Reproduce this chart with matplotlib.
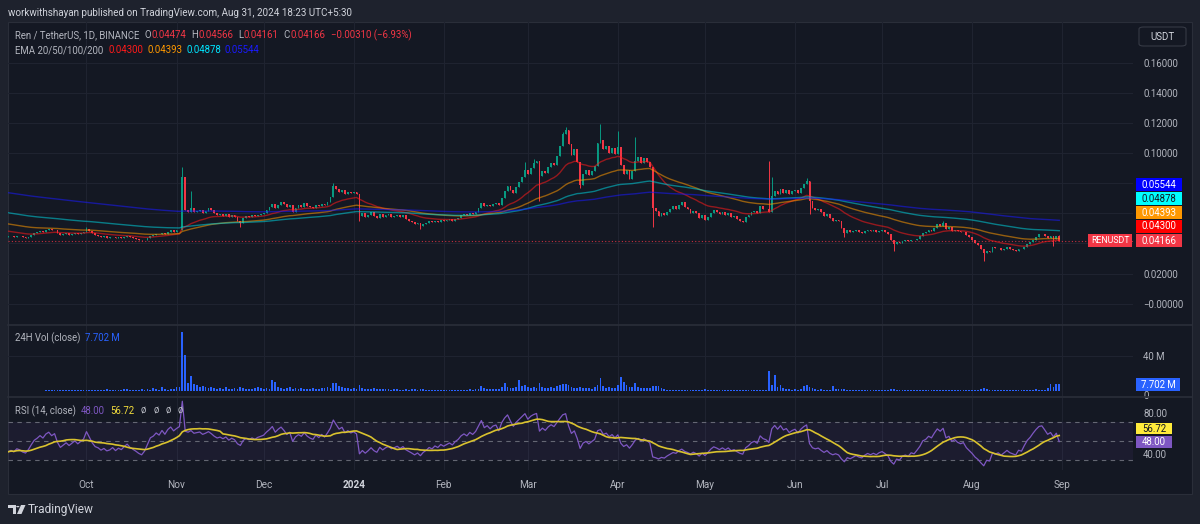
import numpy as np
import pandas as pd
import matplotlib
matplotlib.use("Agg")
import matplotlib.pyplot as plt
import matplotlib.dates as mdates
from matplotlib.patches import Rectangle, FancyBboxPatch, Circle, Polygon
from matplotlib.lines import Line2D

plt.rcParams["font.family"] = ["Roboto", "DejaVu Sans"]

W, H = 1200, 524
nan = float("nan")

# ---------------- data (prices in thousandths of USDT, volume in millions) ----------------
FIRST_DAY = "2023-09-04"
FIRST_OPEN = 44.2

close_sep = [44.6, 45.0, 44.4, 45.2, 44.8, 44.0, 43.6, 44.4, 45.6, 46.8,
             47.4, 48.2, 47.6, 48.8, 49.4, 48.6, 49.2, 47.0, 45.4, 46.0,
             46.6, 45.8, 46.4, 47.0, 46.2, 46.8, 47.4]
close_oct = [49.6, 48.2, 46.6, 45.4, 45.0, 44.2, 44.6, 43.8, 44.0, 44.5,
             43.6, 44.1, 43.7, 44.3, 44.8, 44.0, 43.5, 43.0, 42.4, 42.0,
             42.6, 43.8, 45.2, 45.6, 46.4, 46.0, 47.2, 46.5, 47.8, 48.6, 47.9]
close_nov = [48.6, 49.2, 84.0, 62.0, 61.0, 63.5, 60.8, 61.6, 62.5, 60.4,
             61.8, 63.6, 62.0, 60.0, 58.6, 59.4, 58.2, 59.6, 57.4, 58.8,
             57.8, 55.0, 53.8, 57.2, 58.4, 57.6, 58.8, 58.0, 59.2, 59.8]
close_dec = [60.5, 62.4, 64.0, 66.2, 63.8, 65.8, 67.4, 66.0, 64.2, 65.6,
             61.0, 63.8, 65.2, 64.4, 66.6, 65.0, 64.0, 63.4, 65.8, 64.6,
             66.4, 65.2, 67.6, 70.8, 78.4, 76.2, 74.0, 75.6, 72.8, 74.4, 73.2]
close_jan = [74.0, 73.0, 58.0, 60.2, 57.4, 59.0, 61.0, 58.2, 56.6, 59.8,
             57.4, 58.8, 59.6, 57.8, 58.4, 59.2, 57.6, 58.6, 56.4, 55.2,
             54.0, 52.6, 53.4, 51.4, 52.8, 53.6, 54.8, 54.0, 55.2, 54.4, 55.6]
close_feb = [54.8, 55.4, 56.0, 55.2, 56.4, 57.2, 58.6, 59.4, 58.8, 60.2,
             59.6, 60.8, 63.4, 66.8, 64.6, 65.8, 64.8, 66.4, 67.0, 65.2,
             70.4, 74.6, 78.2, 75.8, 73.6, 77.4, 80.6, 84.4, 88.6]
close_mar = [86.0, 90.4, 93.2, 95.0, 84.6, 88.2, 86.6, 90.8, 93.6, 92.4,
             98.0, 104.6, 112.4, 115.2, 106.0, 98.6, 102.4, 94.0, 79.0, 86.4,
             89.0, 85.2, 88.4, 91.6, 106.4, 108.8, 102.4, 104.8, 100.2, 103.6, 99.4]
close_apr = [104.2, 92.0, 86.4, 88.8, 83.0, 88.0, 94.6, 97.2, 93.6, 96.8,
             94.2, 91.0, 63.8, 61.6, 58.4, 60.2, 58.6, 61.0, 62.8, 64.6,
             63.2, 65.8, 67.4, 64.2, 62.6, 60.4, 61.8, 60.0, 56.6, 58.8]
close_may = [55.6, 57.8, 60.4, 62.2, 61.0, 59.4, 60.6, 58.8, 60.0, 57.6,
             58.2, 56.4, 55.0, 54.2, 57.6, 58.8, 60.6, 61.4, 60.2, 64.8,
             63.2, 62.6, 61.0, 71.2, 74.8, 72.6, 76.4, 73.8, 75.2, 72.8, 74.6]
close_jun = [75.8, 73.6, 77.0, 79.6, 81.4, 68.0, 63.6, 62.4, 63.0, 60.6,
             58.4, 59.6, 56.8, 55.2, 55.8, 54.6, 50.2, 46.6, 48.8, 47.6,
             48.4, 49.2, 47.8, 47.0, 48.2, 49.0, 48.0, 48.6, 47.6, 48.4]
close_jul = [48.8, 47.6, 46.2, 42.0, 39.4, 41.2, 40.4, 41.8, 42.2, 41.4,
             42.6, 42.0, 43.2, 44.6, 46.8, 47.4, 48.8, 48.2, 50.4, 52.6,
             51.8, 53.4, 49.8, 50.6, 48.4, 49.2, 48.0, 47.4, 47.8, 45.6, 44.2]
close_aug = [42.6, 40.4, 38.8, 36.2, 33.4, 35.2, 34.6, 37.4, 36.8, 37.2,
             35.8, 36.6, 37.4, 36.2, 35.6, 35.0, 36.4, 36.0, 37.8, 39.6,
             40.8, 42.6, 44.4, 46.0, 46.4, 45.2, 43.8, 44.6, 43.2, 44.74, 41.66]

HIGH_WICKS = {
    "2023-10-01": 50.6, "2023-11-03": 90.7, "2023-11-06": 75.0,
    "2023-12-25": 80.4, "2024-02-29": 94.0, "2024-03-03": 96.0,
    "2024-03-13": 114.0, "2024-03-14": 117.5, "2024-03-26": 119.5,
    "2024-04-01": 115.0, "2024-04-07": 111.0, "2024-05-23": 94.5,
    "2024-05-24": 84.0, "2024-06-05": 83.5, "2024-07-22": 54.6,
    "2024-08-31": 45.66,
}
LOW_WICKS = {
    "2023-10-20": 41.4, "2023-11-23": 50.8, "2024-01-03": 55.0,
    "2024-01-24": 49.6, "2024-03-05": 68.0, "2024-03-19": 77.0,
    "2024-04-13": 50.7, "2024-06-06": 59.7, "2024-06-18": 44.0,
    "2024-07-05": 35.0, "2024-08-05": 28.5, "2024-08-29": 38.2,
    "2024-08-31": 41.61,
}

vol_sep = [nan] * 13 + [1.2, 1.4, 1.0, 0.9, 1.3, 1.1, 0.8, 1.0, 1.2, 0.9, 1.1, 1.0, 1.3, 1.2]
vol_oct = [1.0, 1.1, 1.4, 1.2, 0.9, 1.0, 1.3, 2.4, 1.1, 1.0,
           1.2, 0.9, 1.5, 2.6, 1.8, 1.2, 1.0, 1.4, 1.6, 2.0,
           1.5, 1.8, 1.3, 3.8, 2.6, 1.6, 4.8, 2.2, 1.5, 1.9, 2.4]
vol_nov = [4.6, 5.0, 66.5, 41.0, 8.8, 17.5, 8.2, 6.5, 4.8, 5.2,
           4.0, 3.6, 4.2, 3.4, 2.8, 3.2, 2.6, 4.4, 2.8, 2.4,
           3.0, 2.6, 4.6, 3.2, 2.4, 2.8, 2.2, 3.0, 4.2, 3.4]
vol_dec = [2.8, 3.2, 2.4, 12.2, 10.4, 4.2, 3.0, 2.6, 3.4, 4.8,
           2.6, 3.6, 2.4, 3.0, 2.8, 2.2, 2.6, 3.2, 2.4, 2.8,
           3.0, 3.6, 4.2, 3.4, 9.6, 9.2, 5.2, 4.4, 3.6, 3.0, 2.6]
vol_jan = [3.2, 2.8, 6.6, 3.4, 2.4, 2.2, 2.6, 3.0, 2.0, 2.4,
           2.2, 2.0, 1.8, 1.6, 2.0, 1.8, 1.6, 1.4, 1.8, 1.6,
           2.0, 2.2, 1.6, 2.4, 1.8, 1.4, 1.2, 1.6, 1.4, 1.2, 1.4]
vol_feb = [1.2, 1.0, 1.1, 1.3, 1.0, 1.2, 1.6, 1.4, 1.2, 1.8,
           1.6, 2.0, 2.6, 5.8, 3.0, 2.4, 2.2, 2.6, 2.0, 2.4,
           4.2, 9.4, 5.0, 3.6, 3.0, 4.2, 12.2, 5.6, 6.4]
vol_mar = [4.6, 3.8, 4.2, 3.6, 8.6, 4.2, 3.8, 3.4, 4.0, 3.6,
           6.0, 7.2, 8.0, 8.4, 6.4, 4.6, 3.8, 3.4, 4.4, 3.8,
           3.6, 3.2, 2.8, 4.2, 6.6, 14.2, 5.4, 3.4, 4.6, 3.6, 3.2]
vol_apr = [7.2, 15.4, 10.2, 6.4, 4.2, 5.0, 9.6, 4.8, 3.6, 3.2,
           3.4, 3.0, 6.0, 5.8, 5.2, 3.0, 2.2, 1.6, 1.4, 1.2,
           1.4, 1.2, 1.6, 1.4, 1.2, 1.0, 1.3, 1.1, 1.2, 1.4]
vol_may = [2.4, 1.6, 1.4, 1.2, 1.1, 1.3, 1.2, 1.0, 1.1, 1.2,
           1.0, 0.9, 1.0, 1.2, 1.1, 1.3, 1.0, 0.9, 1.1, 1.2,
           1.4, 1.2, 22.8, 6.6, 18.4, 4.2, 7.0, 3.2, 2.2, 2.0, 1.6]
vol_jun = [1.8, 1.6, 2.2, 5.4, 6.6, 5.0, 3.2, 2.0, 1.6, 1.8,
           1.5, 1.4, 1.6, 6.2, 2.4, 1.8, 2.0, 2.6, 1.6, 1.4,
           1.3, 1.2, 1.4, 1.5, 1.2, 1.1, 1.3, 1.0, 1.2, 1.1]
vol_jul = [1.2, 1.1, 1.3, 1.8, 2.4, 1.6, 1.2, 1.3, 1.1, 1.0,
           1.2, 1.1, 1.0, 1.2, 1.4, 1.3, 1.2, 1.5, 1.4, 1.6,
           1.3, 1.4, 1.5, 1.2, 1.1, 1.0, 0.9, 1.0, 1.1, 1.2, 1.3]
vol_aug = [1.4, 1.6, 1.5, 1.8, 3.6, 2.2, 1.6, 1.4, 1.2, 1.1,
           1.0, 1.2, 1.1, 1.0, 1.3, 1.1, 1.0, 1.2, 1.3, 1.4,
           1.2, 1.6, 1.8, 1.5, 1.4, 1.3, 3.0, 8.0, 5.0, 7.6, 7.702]

EMA_LENGTHS = [20, 50, 100, 200]
EMA_SEEDS = [0.0485, 0.0533, 0.0607, 0.0740]   # values read at the left edge
EMA_COLORS = ["#ff1a1a", "#ff9800", "#00d0dc", "#1a1aff"]
EMA_LAST = ["0.04300", "0.04393", "0.04878", "0.05544"]
RSI_SEED_GAIN, RSI_SEED_LOSS = 0.5, 0.8
RSI_LAST, RSI_MA_LAST = "48.00", "56.72"
VOL_LAST = "7.702 M"
LAST_PRICE = 0.04166

MONTH_LABELS = ["Oct", "Nov", "Dec", "2024", "Feb", "Mar", "Apr",
                "May", "Jun", "Jul", "Aug", "Sep"]
PRICE_TICKS = [0.0, 0.02, 0.04, 0.06, 0.08, 0.10, 0.12, 0.14, 0.16]
HIDDEN_TICKS = [0.04, 0.06, 0.08]   # covered by the value tags

# ---------------- build series ----------------
closes_k = (close_sep + close_oct + close_nov + close_dec + close_jan + close_feb
            + close_mar + close_apr + close_may + close_jun + close_jul + close_aug)
volumes = (vol_sep + vol_oct + vol_nov + vol_dec + vol_jan + vol_feb
           + vol_mar + vol_apr + vol_may + vol_jun + vol_jul + vol_aug)
assert len(closes_k) == len(volumes) == 363

dates = pd.date_range(FIRST_DAY, periods=len(closes_k), freq="D")
xd = mdates.date2num(dates)
c = np.array(closes_k) / 1000
o = np.r_[FIRST_OPEN / 1000, c[:-1]]
hi = np.maximum(o, c)
lo = np.minimum(o, c)
for d, v in HIGH_WICKS.items():
    hi[dates.get_loc(pd.Timestamp(d))] = v / 1000
for d, v in LOW_WICKS.items():
    lo[dates.get_loc(pd.Timestamp(d))] = v / 1000


def ema(values, length, seed):
    a = 2 / (length + 1)
    out = np.empty(len(values))
    prev = seed
    for i, v in enumerate(values):
        prev = prev + a * (v - prev)
        out[i] = prev
    return out


ck = np.array(closes_k)
delta = np.r_[0, np.diff(ck)]
ag, al = RSI_SEED_GAIN, RSI_SEED_LOSS
rsi = np.empty(len(ck))
for i, d in enumerate(delta):
    ag += (max(d, 0) - ag) / 14
    al += (max(-d, 0) - al) / 14
    rsi[i] = 100 - 100 / (1 + ag / al)
rsi_ma = pd.Series(rsi).rolling(14, min_periods=1).mean().values

# ---------------- figure ----------------
BG = "#141823"
OUTER = "#1e222d"
GRID = "#1f2330"
TXT = "#b2b5be"
UP, DOWN = "#089981", "#f23645"

fig = plt.figure(figsize=(W / 100, H / 100), dpi=100, facecolor=OUTER)
renderer = fig.canvas.get_renderer()


def frac_rect(x0, y0, x1, y1):
    return [x0 / W, 1 - y1 / H, (x1 - x0) / W, (y1 - y0) / H]


def fx(x):
    return x / W


def fy(y):
    return 1 - y / H


fig.add_artist(Rectangle((fx(8), fy(494)), (1192 - 8) / W, (494 - 22) / H,
                         transform=fig.transFigure, facecolor=BG,
                         edgecolor="#2a2e39", lw=0.8, zorder=-1))

ax_p = fig.add_axes(frac_rect(8, 22, 1133, 324))
ax_v = fig.add_axes(frac_rect(8, 325, 1133, 396))
ax_r = fig.add_axes(frac_rect(8, 398, 1133, 470))

oct1 = mdates.date2num(pd.Timestamp("2023-10-01"))
month_starts = mdates.date2num(pd.date_range("2023-10-01", "2024-09-01", freq="MS"))

for ax in (ax_p, ax_v, ax_r):
    ax.set_facecolor("none")
    for s in ax.spines.values():
        s.set_visible(False)
    ax.set_xlim(oct1 - 27.03, oct1 + 360.4)
    for m in month_starts:
        ax.axvline(m, color=GRID, lw=0.8, zorder=0)
    ax.yaxis.tick_right()
    ax.tick_params(axis="y", length=0, pad=7.2, labelcolor=TXT, labelsize=6.9)
    ax.tick_params(axis="x", length=0)

ax_p.tick_params(axis="x", labelbottom=False)
ax_v.tick_params(axis="x", labelbottom=False)

# price pane
ax_p.set_ylim(-0.01353, 0.1871)
for t in PRICE_TICKS:
    ax_p.axhline(t, color=GRID, lw=0.8, zorder=0)
price_labels = []
for t in PRICE_TICKS:
    if t in HIDDEN_TICKS:
        price_labels.append("")
    elif t == 0:
        price_labels.append("\u22120.00000")
    else:
        price_labels.append(f"{t:.5f}")
ax_p.set_yticks(PRICE_TICKS, labels=price_labels)

cols = np.where(c >= o, UP, DOWN)
ax_p.vlines(xd, lo, hi, colors=cols, lw=0.7, zorder=2)
ax_p.bar(xd, np.maximum(np.abs(c - o), 0.0003), bottom=np.minimum(o, c),
         width=0.62, color=cols, linewidth=0, zorder=3)

for n, seed, col in zip(EMA_LENGTHS, EMA_SEEDS, EMA_COLORS):
    ax_p.plot(xd, ema(c, n, seed), color=col, lw=1.0, alpha=0.55, zorder=4)

ax_p.axhline(LAST_PRICE, color=DOWN, lw=0.8, ls=(0, (1, 2)), alpha=0.8, zorder=1)

# volume pane
ax_v.set_ylim(-5.7, 74.8)
ax_v.axhline(40, color=GRID, lw=0.8, zorder=0)
ax_v.set_yticks([0, 40], labels=["0", "40 M"])
ax_v.get_yticklabels()[0].set_va("top")
ax_v.bar(xd, np.nan_to_num(np.array(volumes)), width=0.62, color="#2962ff",
         linewidth=0, zorder=2)

# rsi pane
ax_r.set_ylim(19.1, 95.7)
ax_r.axhspan(30, 70, color="#7e57c2", alpha=0.08, lw=0, zorder=0)
for lvl in (30, 50, 70):
    ax_r.axhline(lvl, color="#787b86", lw=0.8, ls=(0, (4, 4)), alpha=0.8, zorder=1)
ax_r.plot(xd, rsi, color="#7e57c2", lw=0.9, zorder=3)
ax_r.plot(xd, rsi_ma, color="#d9c22e", lw=1.2, zorder=4)
ax_r.set_yticks([40, 80], labels=["40.00", "80.00"])
ax_r.get_yticklabels()[0].set_va("top")
ax_r.set_xticks(month_starts, labels=MONTH_LABELS)
ax_r.tick_params(axis="x", pad=7, labelcolor=TXT, labelsize=7.2)
ax_r.get_xticklabels()[3].set_fontweight("bold")
ax_r.get_xticklabels()[3].set_color("#d1d4dc")

# panel separators
for ysep in (324.5, 397):
    fig.add_artist(Line2D([fx(8), fx(1192)], [fy(ysep), fy(ysep)],
                          transform=fig.transFigure, color="#2a2e39", lw=1.2))


def tag(x0, y0, x1, y1, text, face, tc="white", size=6.9):
    fig.add_artist(Rectangle((fx(x0), fy(y1)), (x1 - x0) / W, (y1 - y0) / H,
                             transform=fig.transFigure, facecolor=face,
                             edgecolor="none", zorder=5))
    fig.text(fx((x0 + x1) / 2), fy((y0 + y1) / 2), text, color=tc, fontsize=size,
             ha="center", va="center", zorder=6)


tag(1136, 178, 1182, 191, EMA_LAST[3], "#0000ff")
tag(1136, 192, 1182, 205, EMA_LAST[2], "#00ffff", "#131722")
tag(1136, 206, 1182, 219, EMA_LAST[1], "#ff9800")
tag(1136, 220, 1182, 233, EMA_LAST[0], "#ff0000")
tag(1088, 234, 1132, 247, "RENUSDT", DOWN, size=6.3)
tag(1136, 234, 1182, 247, f"{LAST_PRICE:.5f}", DOWN)
tag(1136, 378, 1180, 391, VOL_LAST, "#2962ff")
tag(1136, 423, 1172, 434, RSI_MA_LAST, "#ffeb3b", "#131722")
tag(1136, 436, 1172, 448, RSI_LAST, "#7e57c2")

fig.add_artist(FancyBboxPatch((fx(1139), fy(46)), 47 / W, 19 / H,
                              boxstyle="round,pad=0,rounding_size=0.004",
                              transform=fig.transFigure, facecolor=BG,
                              edgecolor="#363a45", lw=0.8, zorder=5))
fig.text(fx(1162.5), fy(36.5), "USDT", color="#d1d4dc", fontsize=7,
         ha="center", va="center", zorder=6)

# legends / header text
fig.text(fx(8), fy(13), "workwithshayan published on TradingView.com, Aug 31, 2024 18:23 UTC+5:30",
         color="#d1d4dc", fontsize=7.1, va="center")


def line(x, y, parts, size=6.9):
    # parts: (text, colour, gap in px after it); laid out from measured widths
    for s, col, gap in parts:
        t = fig.text(fx(x), fy(y), s, color=col, fontsize=size, va="center", ha="left")
        x += t.get_window_extent(renderer=renderer).width + gap


line(15, 35, [("Ren / TetherUS, 1D, BINANCE", TXT, 5),
              ("O", TXT, 0.5), ("0.04474", DOWN, 5),
              ("H", TXT, 0.5), ("0.04566", DOWN, 5),
              ("L", TXT, 0.5), ("0.04161", DOWN, 5),
              ("C", TXT, 0.5), ("0.04166", DOWN, 5),
              ("\u22120.00310 (\u22126.93%)", DOWN, 0)])
line(15, 50, [("EMA 20/50/100/200", TXT, 5),
              (EMA_LAST[0], "#ff1a1a", 4), (EMA_LAST[1], "#ff9800", 4),
              (EMA_LAST[2], "#00e5ff", 4), (EMA_LAST[3], "#1a1aff", 0)])
line(15, 338, [("24H Vol (close)", TXT, 5), (VOL_LAST, "#2962ff", 0)])
line(15, 411, [("RSI (14, close)", TXT, 5), (RSI_LAST, "#7e57c2", 5),
               (RSI_MA_LAST, "#f2dc3c", 7), ("\u00f8", TXT, 7), ("\u00f8", TXT, 7),
               ("\u00f8", TXT, 7), ("\u00f8", TXT, 0)])

# TradingView logo
LOGO = "#d1d4dc"
fig.add_artist(Polygon([(fx(8), fy(505)), (fx(15.5), fy(505)), (fx(15.5), fy(514)),
                        (fx(12.5), fy(514)), (fx(12.5), fy(508)), (fx(8), fy(508))],
                       closed=True, transform=fig.transFigure, facecolor=LOGO,
                       edgecolor="none"))
fig.add_artist(Circle((fx(17.8), fy(506.6)), 1.6 / W, transform=fig.transFigure,
                      facecolor=LOGO, edgecolor="none"))
fig.add_artist(Polygon([(fx(21), fy(505)), (fx(25.5), fy(505)), (fx(21.5), fy(514)),
                        (fx(17), fy(514))], closed=True, transform=fig.transFigure,
                       facecolor=LOGO, edgecolor="none"))
fig.text(fx(28), fy(509.5), "TradingView", color=LOGO, fontsize=8.6, va="center")

fig.savefig("out.png", dpi=100, facecolor=OUTER)
